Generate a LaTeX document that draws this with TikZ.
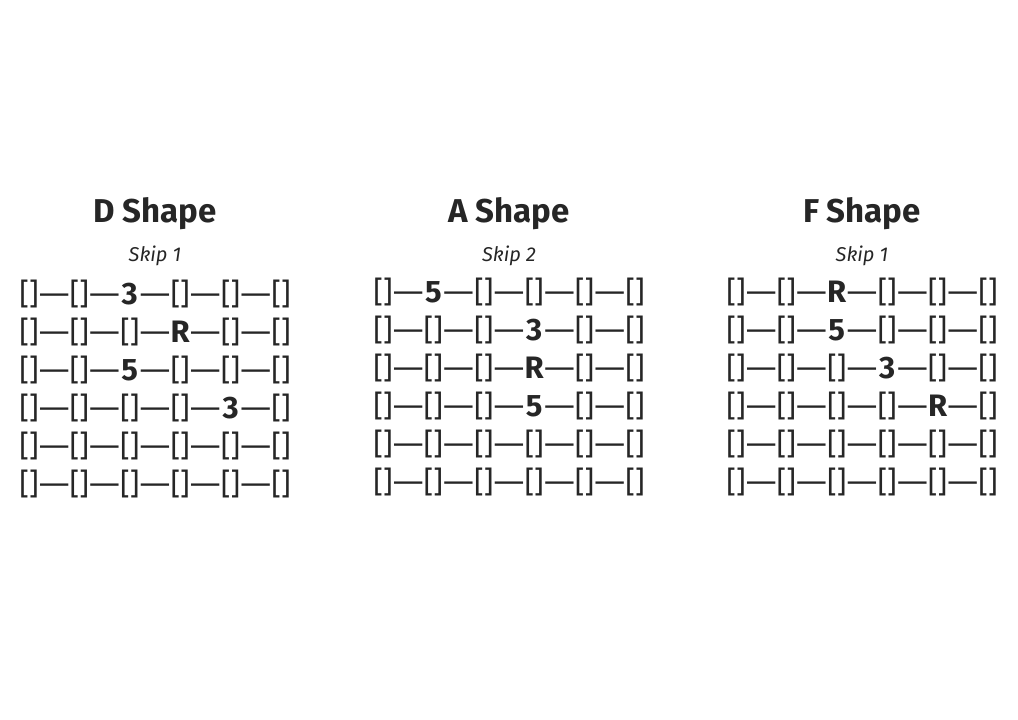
\documentclass[tikz,border=0pt]{standalone}
\usepackage{fontspec}
\setmainfont{Fira Sans}
\usetikzlibrary{positioning}
\definecolor{ink}{HTML}{262626}
\def\emptycell{o}
\begin{document}
\begin{tikzpicture}[x=1pt,y=-1pt]
  \useasboundingbox (0,0) rectangle (1018,720);
  \tikzstyle{every node}=[text=ink, inner sep=0pt, anchor=base]
  \tikzstyle{cell}=[font=\fontsize{30}{30}\selectfont]
  \tikzstyle{dashcell}=[cell, xscale=1.3, transform shape]
  % title, skip and six rows per shape
  \foreach \s/\cx/\by/\sk/\rows in {
    D/155/304/1/{{o,o,3,o,o,o},{o,o,o,R,o,o},{o,o,5,o,o,o},{o,o,o,o,3,o},{o,o,o,o,o,o},{o,o,o,o,o,o}},
    A/509/302/2/{{o,5,o,o,o,o},{o,o,o,3,o,o},{o,o,o,R,o,o},{o,o,o,5,o,o},{o,o,o,o,o,o},{o,o,o,o,o,o}},
    F/862/302/1/{{o,o,R,o,o,o},{o,o,5,o,o,o},{o,o,o,3,o,o},{o,o,o,o,R,o},{o,o,o,o,o,o},{o,o,o,o,o,o}}}{
    \node[font=\fontsize{33}{33}\selectfont\bfseries] (title\s) at (\cx,222) {\s{} Shape};
    \node[font=\fontsize{20}{20}\selectfont\itshape] (skip\s) at (\cx,261) {Skip \sk};
    \foreach \row [count=\r] in \rows {
      \foreach \c [count=\k] in \row {
        \ifx\c\emptycell
          \node[cell] (\s-\r-\k) at ({\cx+(\k-3.5)*50.4},{\by+(\r-1)*38}) {[]};
        \else
          \node[cell, font=\fontsize{31}{31}\selectfont\bfseries] (\s-\r-\k) at ({\cx+(\k-3.5)*50.4},{\by+(\r-1)*38}) {\c};
        \fi
        \ifnum\k<6
          \node[dashcell] (\s-\r-\k d) at ({\cx+(\k-3)*50.4},{\by+(\r-1)*38}) {—};
        \fi
      }
    }
  }
\end{tikzpicture}
\end{document}
